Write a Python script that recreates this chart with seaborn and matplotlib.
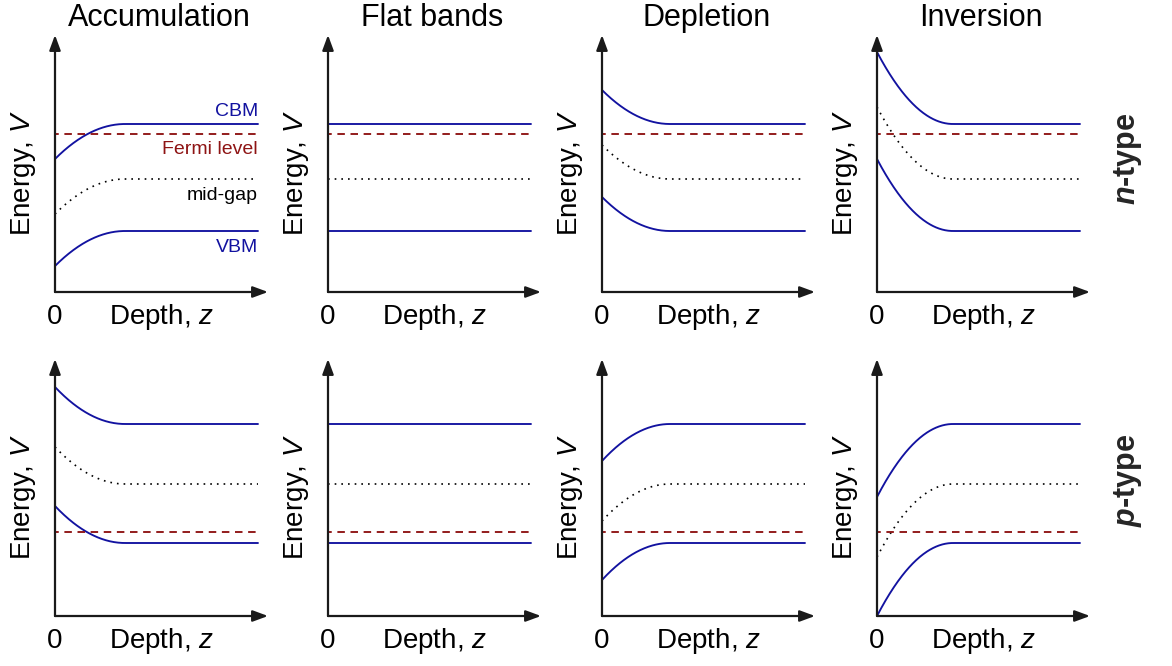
import numpy as np
import pandas as pd
import matplotlib
matplotlib.use("Agg")
import matplotlib.pyplot as plt
import seaborn as sns

# ---------------- data (energies in arbitrary units, depth in arbitrary units) --------
columns = ["Accumulation", "Flat bands", "Depletion", "Inversion"]
rows = ["n", "p"]

# bulk band levels per row (n-type, p-type)
cbm_bulk = [168, 192]
vbm_bulk = [61, 73]
mid_bulk = [113, 132]
fermi_level = [158, 84]

# surface band bending per panel (added to all bands at z = 0)
bend_n = [-35, 0, 34, 72]
bend_p = [37, 0, -37, -73]

# depletion / bending width per column
bend_width = [70, 1, 68, 76]

depth_max = 203
xlim_max = 213
ylim_max = 257

# ---------------- style ----------------
sns.set_theme(style="white")
plt.rcParams["font.family"] = ["Liberation Sans", "DejaVu Sans"]
plt.rcParams["mathtext.fontset"] = "custom"
plt.rcParams["mathtext.rm"] = "Liberation Sans"
plt.rcParams["mathtext.it"] = "Liberation Sans:italic"
plt.rcParams["mathtext.bf"] = "Liberation Sans:bold"
plt.rcParams["mathtext.bfit"] = "Liberation Sans:bold:italic"

BLUE = "#1212A0"
RED = "#8E1414"
AX = "#1a1a1a"

W, H = 1172, 666
fig = plt.figure(figsize=(W / 100, H / 100), dpi=100)

col_x = [55, 328, 602, 877]
row_y = [292, 616]

z = np.linspace(0, depth_max, 400)


def profile(bulk, bend, w):
    s = np.clip(1 - z / w, 0, None) ** 2
    return bulk + bend * s


for r in range(2):
    bends = bend_n if r == 0 else bend_p
    for c in range(4):
        ax = fig.add_axes([col_x[c] / W, (H - row_y[r]) / H, xlim_max / W, ylim_max / H])
        ax.set_xlim(0, xlim_max)
        ax.set_ylim(0, ylim_max)
        ax.axis("off")

        b = bends[c]
        w = bend_width[c]
        df = pd.DataFrame({
            "z": z,
            "CBM": profile(cbm_bulk[r], b, w),
            "VBM": profile(vbm_bulk[r], b, w),
            "mid": profile(mid_bulk[r], b, w),
            "Ef": np.full_like(z, fermi_level[r], dtype=float),
        })
        sns.lineplot(data=df, x="z", y="CBM", ax=ax, color=BLUE, lw=1.35)
        sns.lineplot(data=df, x="z", y="VBM", ax=ax, color=BLUE, lw=1.35)
        sns.lineplot(data=df, x="z", y="mid", ax=ax, color="black", lw=1.2,
                     linestyle=(0, (1, 3)))
        sns.lineplot(data=df, x="z", y="Ef", ax=ax, color=RED, lw=1.35,
                     linestyle=(2, (4, 3)))
        ax.set_xlim(0, xlim_max)
        ax.set_ylim(0, ylim_max)

        # axes arrows
        ap = dict(arrowstyle="-|>,head_length=0.65,head_width=0.24", lw=1.6,
                  color=AX, mutation_scale=14, shrinkA=0, shrinkB=0)
        ax.annotate("", xy=(1, 0), xytext=(0, 0), xycoords="axes fraction",
                    arrowprops=ap, annotation_clip=False)
        ax.annotate("", xy=(0, 1), xytext=(0, 0), xycoords="axes fraction",
                    arrowprops=ap, annotation_clip=False)

        # axis labels
        ax.annotate("0", xy=(0, 0), xycoords="axes fraction", xytext=(0, -18),
                    textcoords="offset points", ha="center", va="center",
                    fontsize=20, color="black", annotation_clip=False)
        ax.annotate("Depth, $z$", xy=(0.5, 0), xycoords="axes fraction",
                    xytext=(0, -18), textcoords="offset points", ha="center",
                    va="center", fontsize=20, color="black", annotation_clip=False)
        ax.annotate("Energy, $V$", xy=(0, 0.463), xycoords="axes fraction",
                    xytext=(-23, 0), textcoords="offset points", ha="center",
                    va="center", rotation=90, fontsize=20, color="black",
                    annotation_clip=False)

        if r == 0:
            ax.annotate(columns[c], xy=(0.49, 1), xycoords="axes fraction",
                        xytext=(0, 12.5), textcoords="offset points",
                        ha="center", va="center", fontsize=22, color="black",
                        annotation_clip=False)

        if r == 0 and c == 0:
            ax.text(depth_max, cbm_bulk[r] + 13, "CBM", color=BLUE, fontsize=14,
                    ha="right", va="center")
            ax.text(depth_max, fermi_level[r] - 16, "Fermi level", color=RED,
                    fontsize=14, ha="right", va="center")
            ax.text(depth_max, mid_bulk[r] - 16, "mid-gap", color="black",
                    fontsize=14, ha="right", va="center")
            ax.text(depth_max, vbm_bulk[r] - 16, "VBM", color=BLUE, fontsize=14,
                    ha="right", va="center")

# row labels
fig.text(1128 / W, 1 - 159 / H, r"$\mathbfit{n}$-type", rotation=90, ha="center",
         va="center", fontsize=22, fontweight="bold")
fig.text(1128 / W, 1 - 480 / H, r"$\mathbfit{p}$-type", rotation=90, ha="center",
         va="center", fontsize=22, fontweight="bold")

fig.savefig("out.png", dpi=100)
